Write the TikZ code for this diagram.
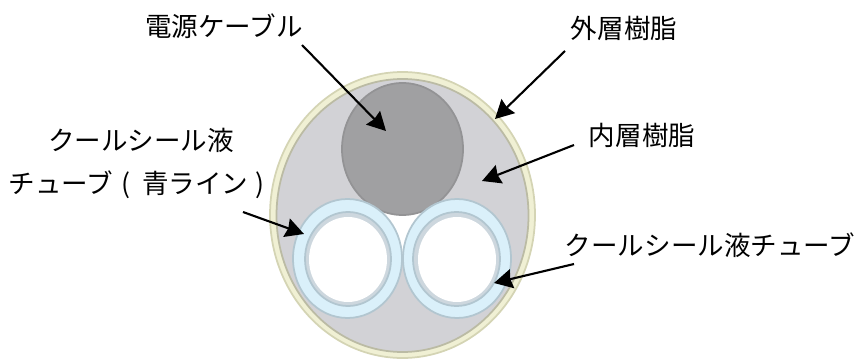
\documentclass[tikz,border=0pt]{standalone}
\usepackage{fontspec}
\setmainfont{Noto Sans CJK JP}
\definecolor{cbolive}{RGB}{212,212,180}
\definecolor{cbyellow}{RGB}{240,240,212}
\definecolor{cbgray}{RGB}{210,210,214}
\definecolor{cbdark}{RGB}{160,160,162}
\definecolor{cbblue}{RGB}{218,240,250}
\definecolor{cbring}{RGB}{178,198,208}
\definecolor{cbwall}{RGB}{205,215,222}
\usetikzlibrary{arrows.meta,shapes.geometric}
\tikzset{
  layer/.style={draw=#1, ellipse, inner sep=0pt, line width=1pt},
  lbl/.style={font=\fontsize{15.1pt}{18pt}\selectfont, inner sep=0pt, text=black},
  pointer/.style={-{Stealth[length=10.5pt, width=11pt, inset=1pt]}, line width=1.2pt},
}
\begin{document}
\begin{tikzpicture}[x=0.02cm, y=-0.02cm]
\useasboundingbox (0,0) rectangle (861,361);
% Cable body
\node[layer=cbolive, fill=cbyellow, minimum width=265*0.02cm, minimum height=286*0.02cm] (outer) at (402.5,215) {};
\node[layer=cbolive!70!gray, fill=cbgray, minimum width=252*0.02cm, minimum height=273*0.02cm] (inner) at (402.5,215.5) {};
% Gap below the power cable
\fill[white] (372,205) -- (433,205) -- (402,262) -- cycle;
\node[layer=cbdark!92!black, fill=cbdark, minimum width=121*0.02cm, minimum height=132*0.02cm] (cable) at (402.5,149) {};
% Left tube
\node[layer=cbring, fill=cbblue, minimum width=109*0.02cm, minimum height=119*0.02cm] (tubeL) at (347.5,258.5) {};
\node[layer=cbring, fill=cbwall, minimum width=86*0.02cm, minimum height=94*0.02cm] (ringL) at (348,259) {};
\node[ellipse, fill=white, inner sep=0pt, minimum width=78*0.02cm, minimum height=85*0.02cm] (boreL) at (348,259.5) {};
% Right tube
\node[layer=cbring, fill=cbblue, minimum width=108*0.02cm, minimum height=119*0.02cm] (tubeR) at (457,258.5) {};
\node[layer=cbring, fill=cbwall, minimum width=87*0.02cm, minimum height=94*0.02cm] (ringR) at (456.5,259) {};
\node[ellipse, fill=white, inner sep=0pt, minimum width=78*0.02cm, minimum height=85*0.02cm] (boreR) at (457,259.5) {};
% Labels
\node[lbl] (lblcable) at (224,26) {電源ケーブル};
\node[lbl] (lblouter) at (624,28) {外層樹脂};
\node[lbl] (lblinner) at (642,135) {内層樹脂};
\node[lbl] (lblblue) at (141,140) {クールシール液};
\node[lbl] (lblblue2) at (136.5,185) {チューブ\hspace{0.16cm}(\hspace{0.24cm}青ライン\hspace{0.14cm})};
\node[lbl] (lbltube) at (710,245) {クールシール液チューブ};
% Arrow ends
\coordinate (fromcable) at (302,45);
\coordinate (tocable) at (386,131);
\coordinate (fromouter) at (565,51);
\coordinate (toouter) at (495,119);
\coordinate (frominner) at (574,145);
\coordinate (toinner) at (482,181);
\coordinate (fromblue) at (243,212);
\coordinate (toblue) at (304,234);
\coordinate (fromtube) at (574,264);
\coordinate (totube) at (494,283);
% Arrows
\draw[pointer] (fromcable) -- (tocable);
\draw[pointer] (fromouter) -- (toouter);
\draw[pointer] (frominner) -- (toinner);
\draw[pointer] (fromblue) -- (toblue);
\draw[pointer] (fromtube) -- (totube);
\end{tikzpicture}
\end{document}
